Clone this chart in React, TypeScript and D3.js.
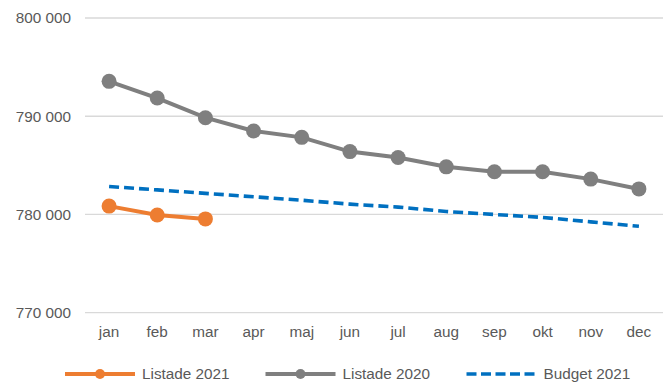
import React from "react";
import * as d3 from "d3";

const months = ["jan", "feb", "mar", "apr", "maj", "jun", "jul", "aug", "sep", "okt", "nov", "dec"];
const listade2021 = [780850, 779950, 779550];
const listade2020 = [793550, 791850, 789850, 788500, 787850, 786400, 785800, 784850, 784350, 784350, 783600, 782600];
const budget2021 = [782850, 782500, 782150, 781800, 781450, 781050, 780750, 780300, 780000, 779700, 779250, 778800];
const yTicks = [770000, 780000, 790000, 800000];

const W = 670, H = 383;
const left = 85, right = 663, top = 18, bottom = 312.7;

export default function App() {
  const x = d3.scaleBand<string>().domain(months).range([left, right]);
  const y = d3.scaleLinear().domain([770000, 800000]).range([bottom, top]);
  const cx = (i: number) => (x(months[i]) as number) + x.bandwidth() / 2;
  const line = d3.line<number>().x((_, i) => cx(i)).y((d) => y(d));
  const fmt = (v: number) => d3.format(",")(v).replace(/,/g, " ");
  const font = "'Liberation Sans', Arial, sans-serif";
  const textColor = "#595959";
  const fs = 15.3;
  const legendY = 374;
  const legend = [
    { label: "Listade 2021", color: "#ED7D31", x0: 65, marker: true, dash: undefined as string | undefined },
    { label: "Listade 2020", color: "#7F7F7F", x0: 265.5, marker: true, dash: undefined },
    { label: "Budget 2021", color: "#0070C0", x0: 466.5, marker: false, dash: "10,4.5" },
  ];
  return (
    <svg width={W} height={H} style={{ position: "absolute", left: 0, top: 0, background: "#fff" }}>
      {yTicks.map((t) => (
        <g key={t}>
          <line x1={left} x2={right} y1={y(t)} y2={y(t)} stroke="#D9D9D9" strokeWidth={1.3} />
          <text x={71} y={y(t)} dy="0.35em" textAnchor="end" fontFamily={font} fontSize={fs} fill={textColor}>
            {fmt(t)}
          </text>
        </g>
      ))}
      {months.map((m, i) => (
        <text key={m} x={cx(i)} y={336.5} textAnchor="middle" fontFamily={font} fontSize={fs} fill={textColor}>
          {m}
        </text>
      ))}
      <path d={line(budget2021) as string} fill="none" stroke="#0070C0" strokeWidth={3.6} strokeDasharray="10,5" />
      <path d={line(listade2020) as string} fill="none" stroke="#7F7F7F" strokeWidth={4} />
      {listade2020.map((v, i) => (
        <circle key={i} cx={cx(i)} cy={y(v)} r={7.5} fill="#7F7F7F" />
      ))}
      <path d={line(listade2021) as string} fill="none" stroke="#ED7D31" strokeWidth={4} />
      {listade2021.map((v, i) => (
        <circle key={i} cx={cx(i)} cy={y(v)} r={7.5} fill="#ED7D31" />
      ))}
      {legend.map((l) => (
        <g key={l.label}>
          <line x1={l.x0} x2={l.x0 + 70} y1={legendY} y2={legendY} stroke={l.color} strokeWidth={l.marker ? 4 : 3.6}
            strokeDasharray={l.dash} />
          {l.marker && <circle cx={l.x0 + 35} cy={legendY} r={5} fill={l.color} />}
          <text x={l.x0 + 77} y={legendY} dy="0.35em" fontFamily={font} fontSize={fs} fill={textColor}>
            {l.label}
          </text>
        </g>
      ))}
    </svg>
  );
}
